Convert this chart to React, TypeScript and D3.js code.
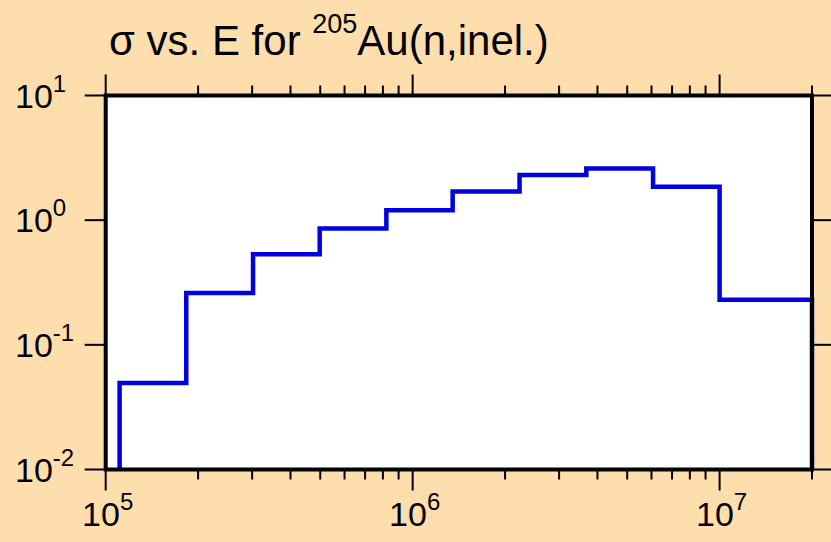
import React, { useEffect, useRef } from 'react';
import * as d3 from 'd3';

// bin edges (eV) and cross sections (b)
const binEdges = [1.11e5, 1.83e5, 3.02e5, 4.98e5, 8.21e5, 1.35e6, 2.23e6, 3.68e6, 6.07e6, 1.0e7, 2.0e7];
const sigma = [0.0495, 0.261, 0.534, 0.858, 1.2, 1.7, 2.3, 2.6, 1.85, 0.23];
const xDecades = [5, 6, 7];
const yDecades = [1, 0, -1, -2];

const W = 831;
const H = 542;
const BG = '#FFDEAD';
const FONT = '"Liberation Sans", Arial, Helvetica, sans-serif';

export default function App() {
  const svgRef = useRef<SVGSVGElement>(null);

  useEffect(() => {
    if (!svgRef.current) return;
    const svg = d3.select(svgRef.current);
    svg.selectAll('*').remove();

    const left = 105.7, right = 812, top = 95.5, bottom = 469.5;
    const x = d3.scaleLog().domain([1e5, 2e7]).range([left, right]);
    const y = d3.scaleLog().domain([1e-2, 1e1]).range([bottom, top]);

    svg.append('rect').attr('width', W).attr('height', H).attr('fill', BG);
    svg.append('rect')
      .attr('x', left).attr('y', top)
      .attr('width', right - left).attr('height', bottom - top)
      .attr('fill', '#fff');

    // title
    const title = svg.append('text')
      .attr('x', 109).attr('y', 55)
      .attr('font-family', FONT).attr('font-size', 42).attr('fill', '#000');
    title.append('tspan').text('σ vs. E for ');
    title.append('tspan').attr('font-size', 27).attr('dy', -22).text('205');
    title.append('tspan').attr('dy', 22).text('Au(n,inel.)');

    // x ticks: majors at decades, minors at 2..9
    const minors: number[] = [];
    for (let k = 5; k <= 7; k++) {
      for (let m = 2; m <= 9; m++) {
        const v = m * Math.pow(10, k);
        if (v <= 2e7 + 1) minors.push(v);
      }
    }
    const ticks = svg.append('g').attr('stroke', '#000').attr('stroke-width', 2);
    xDecades.forEach((k) => {
      const px = x(Math.pow(10, k));
      ticks.append('line').attr('x1', px).attr('x2', px).attr('y1', bottom).attr('y2', bottom + 21);
      ticks.append('line').attr('x1', px).attr('x2', px).attr('y1', top).attr('y2', top - 21);
    });
    minors.forEach((v) => {
      const px = x(v);
      ticks.append('line').attr('x1', px).attr('x2', px).attr('y1', bottom).attr('y2', bottom + 10);
      ticks.append('line').attr('x1', px).attr('x2', px).attr('y1', top).attr('y2', top - 10);
    });
    yDecades.forEach((k) => {
      const py = y(Math.pow(10, k));
      ticks.append('line').attr('x1', left).attr('x2', left - 21).attr('y1', py).attr('y2', py);
      ticks.append('line').attr('x1', right).attr('x2', W).attr('y1', py).attr('y2', py);
    });

    // x tick labels
    xDecades.forEach((k) => {
      const t = svg.append('text')
        .attr('x', x(Math.pow(10, k)) + 2).attr('y', 526)
        .attr('text-anchor', 'middle')
        .attr('font-family', FONT).attr('font-size', 34).attr('fill', '#000');
      t.append('tspan').text('10');
      t.append('tspan').attr('font-size', 24).attr('dy', -16).text(String(k));
    });

    // y tick labels
    yDecades.forEach((k) => {
      const t = svg.append('text')
        .attr('x', 15).attr('y', y(Math.pow(10, k)) + 12)
        .attr('font-family', FONT).attr('font-size', 34).attr('fill', '#000');
      t.append('tspan').text('10');
      t.append('tspan').attr('font-size', 24).attr('dy', -16).text(String(k));
    });

    // step histogram
    const pts: [number, number][] = [[binEdges[0], 1e-2]];
    sigma.forEach((s, i) => {
      pts.push([binEdges[i], s]);
      pts.push([binEdges[i + 1], s]);
    });
    pts.push([binEdges[binEdges.length - 1], 1e-2]);
    const line = d3.line<[number, number]>().x((d) => x(d[0])).y((d) => y(d[1]));
    svg.append('path')
      .datum(pts)
      .attr('d', line)
      .attr('fill', 'none')
      .attr('stroke', '#0000e0')
      .attr('stroke-width', 4.5)
      .attr('stroke-linejoin', 'miter');

    // frame
    svg.append('rect')
      .attr('x', left).attr('y', top)
      .attr('width', right - left).attr('height', bottom - top)
      .attr('fill', 'none').attr('stroke', '#000').attr('stroke-width', 4);
  }, []);

  return (
    <svg
      ref={svgRef}
      width={W}
      height={H}
      style={{ position: 'absolute', left: 0, top: 0, display: 'block' }}
    />
  );
}
